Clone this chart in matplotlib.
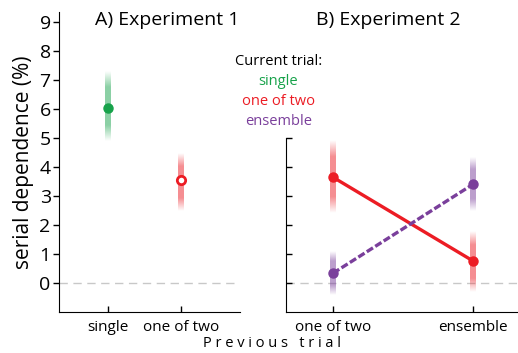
import numpy as np
import matplotlib.pyplot as plt
from matplotlib.colors import to_rgb

plt.rcParams['font.family'] = ['Open Sans', 'DejaVu Sans']

# Experiment 1
exp1_labels = ['single', 'one of two']
exp1_mean = [6.05, 3.55]
exp1_lo = [4.9, 2.5]
exp1_hi = [7.3, 4.5]

# Experiment 2 (x: previous trial, series: current trial)
exp2_labels = ['one of two', 'ensemble']
exp2_red_mean = [3.65, 0.76]
exp2_red_lo = [2.4, -0.3]
exp2_red_hi = [4.9, 1.8]
exp2_purple_mean = [0.34, 3.41]
exp2_purple_lo = [-0.4, 2.5]
exp2_purple_hi = [1.1, 4.35]

green = '#17a24a'
red = '#ec1c24'
purple = '#7a3f9b'

FIG_W = 518


def fade_bar(ax, x, lo, hi, color, px=6, n=200):
    # vertical bar that fades out toward both ends, drawn as a gradient image
    x0, x1 = ax.get_xlim()
    w = px / (ax.get_position().width * FIG_W) * (x1 - x0) / 2
    t = np.linspace(-1, 1, n)
    alpha = 0.5 * np.clip((1 - np.abs(t)) / 0.45, 0, 1)
    img = np.zeros((n, 1, 4))
    img[:, 0, :3] = to_rgb(color)
    img[:, 0, 3] = alpha
    ax.imshow(img, extent=[x - w, x + w, lo, hi], origin='lower',
              aspect='auto', interpolation='bilinear', zorder=1)


fig = plt.figure(figsize=(5.18, 3.53), dpi=100)
ax1 = fig.add_axes([0.114, 0.116, 0.349, 0.85])
ax2 = fig.add_axes([0.552, 0.116, 0.448, 0.85])

# panel A
x1 = np.arange(len(exp1_labels))
ax1.set_xlim(-0.67, 1.81)
ax1.set_ylim(-1, 9.35)
ax1.axhline(0, color='#c8c8c8', lw=1, dashes=(6, 4), zorder=0)
fade_bar(ax1, x1[0], exp1_lo[0], exp1_hi[0], green)
fade_bar(ax1, x1[1], exp1_lo[1], exp1_hi[1], red)
ax1.plot(x1[0], exp1_mean[0], 'o', color=green, ms=6.5, zorder=3)
ax1.plot(x1[1], exp1_mean[1], 'o', mfc='white', mec=red, mew=2, ms=6, zorder=3)
ax1.set_xlim(-0.67, 1.81)
ax1.set_ylim(-1, 9.35)
ax1.set_yticks(range(0, 10))
ax1.set_xticks(x1)
ax1.set_xticklabels(exp1_labels, fontsize=11)
ax1.tick_params(axis='y', direction='out', labelsize=14, length=4, width=1, pad=2)
ax1.tick_params(axis='x', direction='in', length=4, width=1, pad=6)
ax1.spines['top'].set_visible(False)
ax1.spines['right'].set_visible(False)
ax1.spines['left'].set_bounds(-1, 9.35)
ax1.set_ylabel('serial dependence (%)', fontsize=15, labelpad=4)
ax1.set_title('A) Experiment 1', fontsize=14, x=0.6, y=0.93)

# panel B
x2 = np.arange(len(exp2_labels))
ax2.set_xlim(-0.336, 1.32)
ax2.set_ylim(-1, 9.35)
ax2.axhline(0, color='#c8c8c8', lw=1, dashes=(6, 4), zorder=0)
for i in x2:
    fade_bar(ax2, i, exp2_red_lo[i], exp2_red_hi[i], red)
    fade_bar(ax2, i, exp2_purple_lo[i], exp2_purple_hi[i], purple)
ax2.plot(x2, exp2_red_mean, '-o', color=red, lw=2.4, ms=6.5, zorder=3)
ax2.plot(x2, exp2_purple_mean, '--o', color=purple, lw=2.4, ms=6.5,
         dashes=(2.2, 0.8), zorder=3)
ax2.set_xlim(-0.336, 1.32)
ax2.set_ylim(-1, 9.35)
ax2.set_yticks(range(0, 6))
ax2.set_yticklabels([])
ax2.set_xticks(x2)
ax2.set_xticklabels(exp2_labels, fontsize=11)
ax2.tick_params(axis='y', direction='in', length=4, width=1)
ax2.tick_params(axis='x', direction='in', length=4, width=1, pad=6)
ax2.spines['top'].set_visible(False)
ax2.spines['right'].set_visible(False)
ax2.spines['left'].set_bounds(-1, 5)
ax2.set_title('B) Experiment 2', fontsize=14, x=0.44, y=0.93)

# legend text
fig.text(0.537, 0.826, 'Current trial:', fontsize=10.5, ha='center', va='center')
fig.text(0.537, 0.769, 'single', fontsize=10.5, color=green, ha='center', va='center')
fig.text(0.537, 0.712, 'one of two', fontsize=10.5, color=red, ha='center', va='center')
fig.text(0.537, 0.655, 'ensemble', fontsize=10.5, color=purple, ha='center', va='center')

fig.text(0.525, 0.028, 'P r e v i o u s   t r i a l', fontsize=10.5,
         ha='center', va='center')

fig.savefig('out.png', dpi=100)
